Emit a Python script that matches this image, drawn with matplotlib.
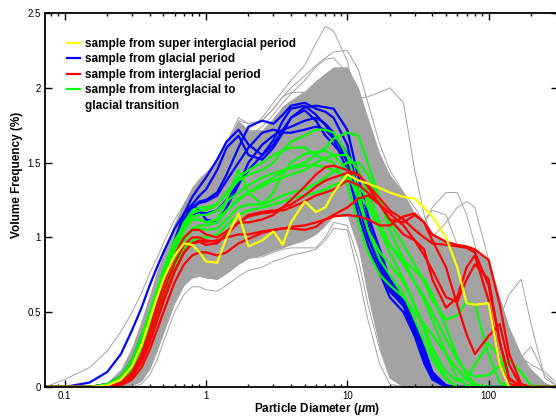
import matplotlib
matplotlib.use("Agg")
import matplotlib.pyplot as plt
from matplotlib.lines import Line2D
from matplotlib.ticker import FixedLocator, LogLocator, NullFormatter, NullLocator

plt.rcParams["font.family"] = ["Liberation Sans", "DejaVu Sans"]
plt.rcParams["mathtext.fontset"] = "custom"
plt.rcParams["mathtext.it"] = "Liberation Sans:italic:bold"
plt.rcParams["mathtext.rm"] = "Liberation Sans:bold"

# particle size classes (um)
DIAMETER = [0.0726, 0.1, 0.15, 0.2, 0.25, 0.3, 0.35, 0.4, 0.45, 0.5,
            0.6, 0.7, 0.8, 0.9, 1.0, 1.2, 1.4, 1.7, 2.0,
            2.5, 3, 3.5, 4, 5, 6, 7, 8, 10,
            12, 14, 17, 20, 25, 30, 35, 40, 50,
            60, 70, 80, 100, 120, 140, 170, 200, 250, 310]

# envelope of the dense cloud of all other samples
GRAY_UPPER = [0, 0, 0, 0.03, 0.12, 0.27, 0.45, 0.62, 0.78, 0.90,
              1.10, 1.24, 1.34, 1.40, 1.44, 1.52, 1.65, 1.78, 1.72,
              1.72, 1.80, 1.88, 1.92, 1.98, 2.05, 2.10, 2.14, 2.14,
              2.00, 1.80, 1.56, 1.42, 1.30, 1.16, 1.08, 1.03, 0.98,
              0.96, 0.94, 0.92, 0.86, 0.60, 0.40, 0.22, 0.12, 0.03, 0]
GRAY_LOWER = [0, 0, 0, 0, 0, 0.01, 0.04, 0.12, 0.24, 0.36,
              0.56, 0.68, 0.73, 0.74, 0.73, 0.72, 0.76, 0.82, 0.86,
              0.88, 0.91, 0.93, 0.95, 0.98, 1.02, 1.08, 1.14, 1.14,
              0.92, 0.60, 0.25, 0.06, 0, 0, 0, 0, 0,
              0, 0, 0, 0, 0, 0, 0, 0, 0, 0]

# individual gray samples at the edge of the cloud
GRAY_SAMPLES = [
    [0, 0.05, 0.13, 0.24, 0.37, 0.50, 0.63, 0.76, 0.86, 0.96,
     1.12, 1.22, 1.30, 1.35, 1.38, 1.42, 1.50, 1.62, 1.65,
     1.68, 1.74, 1.80, 1.85, 1.90, 1.92, 1.90, 1.85, 1.75,
     1.50, 1.25, 1.00, 0.85, 0.72, 0.60, 0.50, 0.40, 0.25,
     0.15, 0.08, 0.04, 0.01, 0, 0, 0, 0, 0, 0],
    [0, 0, 0, 0, 0, 0, 0.02, 0.08, 0.18, 0.30,
     0.50, 0.62, 0.67, 0.67, 0.65, 0.64, 0.68, 0.74, 0.78,
     0.80, 0.84, 0.86, 0.88, 0.90, 0.92, 0.98, 1.06, 1.05,
     0.75, 0.45, 0.15, 0.02, 0, 0, 0, 0, 0,
     0, 0, 0, 0, 0, 0, 0, 0, 0, 0],
    [0, 0, 0, 0, 0, 0.01, 0.04, 0.12, 0.24, 0.36,
     0.56, 0.68, 0.73, 0.74, 0.73, 0.72, 0.76, 0.82, 0.86,
     0.87, 0.90, 0.92, 0.93, 0.93, 0.93, 1.00, 1.10, 1.08,
     0.85, 0.55, 0.25, 0.06, 0, 0, 0, 0, 0,
     0, 0, 0, 0, 0, 0, 0, 0, 0, 0],
    [0, 0, 0, 0.02, 0.10, 0.24, 0.40, 0.56, 0.70, 0.82,
     1.00, 1.12, 1.20, 1.26, 1.30, 1.40, 1.55, 1.72, 1.72,
     1.80, 1.90, 1.98, 2.05, 2.15, 2.30, 2.41, 2.38, 2.18,
     1.85, 1.55, 1.20, 0.95, 0.75, 0.60, 0.48, 0.35, 0.15,
     0.04, 0, 0, 0, 0, 0, 0, 0, 0, 0],
    [0, 0, 0, 0.02, 0.08, 0.20, 0.36, 0.52, 0.66, 0.78,
     0.98, 1.12, 1.22, 1.30, 1.36, 1.46, 1.60, 1.78, 1.76,
     1.78, 1.86, 1.94, 1.97, 1.97, 1.96, 1.95, 1.94, 1.93,
     1.93, 1.94, 1.97, 2.00, 1.90, 1.45, 1.15, 1.00, 0.75,
     0.45, 0.28, 0.17, 0.06, 0.01, 0, 0, 0, 0, 0],
    [0, 0, 0, 0.02, 0.09, 0.22, 0.38, 0.55, 0.70, 0.82,
     1.02, 1.16, 1.26, 1.34, 1.40, 1.50, 1.63, 1.80, 1.76,
     1.78, 1.86, 1.94, 2.00, 2.08, 2.15, 2.20, 2.24, 2.25,
     2.12, 1.90, 1.62, 1.45, 1.30, 1.20, 1.10, 1.02, 0.90,
     0.80, 0.70, 0.60, 0.40, 0.20, 0.08, 0.02, 0, 0, 0],
    [0, 0, 0, 0.01, 0.06, 0.16, 0.30, 0.46, 0.60, 0.72,
     0.92, 1.06, 1.16, 1.22, 1.27, 1.36, 1.50, 1.66, 1.68,
     1.74, 1.82, 1.90, 1.96, 2.05, 2.14, 2.19, 2.20, 2.10,
     1.95, 1.75, 1.50, 1.30, 1.15, 1.05, 0.98, 0.92, 0.85,
     0.75, 0.62, 0.50, 0.30, 0.12, 0.03, 0, 0, 0, 0],
    [0, 0, 0, 0, 0.02, 0.08, 0.18, 0.32, 0.46, 0.58,
     0.78, 0.90, 0.96, 0.98, 0.98, 1.00, 1.06, 1.12, 1.15,
     1.18, 1.20, 1.22, 1.24, 1.28, 1.32, 1.36, 1.40, 1.42,
     1.40, 1.35, 1.28, 1.20, 1.10, 1.05, 1.10, 1.20, 1.30,
     1.30, 1.15, 0.95, 0.55, 0.25, 0.08, 0.01, 0, 0, 0],
    [0, 0, 0, 0, 0.01, 0.05, 0.13, 0.25, 0.38, 0.50,
     0.70, 0.82, 0.88, 0.90, 0.90, 0.92, 0.98, 1.04, 1.08,
     1.10, 1.12, 1.14, 1.16, 1.20, 1.24, 1.28, 1.30, 1.32,
     1.30, 1.26, 1.20, 1.12, 1.02, 0.96, 0.95, 1.00, 1.10,
     1.20, 1.24, 1.20, 0.85, 0.45, 0.18, 0.03, 0, 0, 0],
    [0, 0, 0, 0, 0.01, 0.04, 0.10, 0.20, 0.32, 0.44,
     0.64, 0.76, 0.82, 0.84, 0.84, 0.85, 0.90, 0.96, 1.00,
     1.02, 1.05, 1.08, 1.10, 1.14, 1.18, 1.22, 1.25, 1.28,
     1.27, 1.22, 1.15, 1.08, 1.00, 0.95, 0.92, 0.90, 0.88,
     0.85, 0.82, 0.78, 0.55, 0.46, 0.62, 0.72, 0.42, 0.06, 0],
    [0, 0, 0, 0, 0.01, 0.05, 0.12, 0.22, 0.34, 0.46,
     0.66, 0.78, 0.84, 0.86, 0.86, 0.87, 0.92, 0.98, 1.02,
     1.04, 1.07, 1.10, 1.12, 1.16, 1.20, 1.24, 1.27, 1.30,
     1.28, 1.22, 1.14, 1.06, 0.98, 0.92, 0.88, 0.85, 0.80,
     0.75, 0.70, 0.65, 0.55, 0.35, 0.20, 0.20, 0.27, 0.08, 0],
    [0, 0, 0, 0, 0.01, 0.04, 0.10, 0.20, 0.31, 0.42,
     0.62, 0.74, 0.80, 0.82, 0.82, 0.83, 0.88, 0.94, 0.98,
     1.00, 1.03, 1.06, 1.08, 1.12, 1.16, 1.20, 1.23, 1.25,
     1.22, 1.16, 1.08, 1.00, 0.92, 0.86, 0.82, 0.80, 0.76,
     0.72, 0.66, 0.60, 0.48, 0.38, 0.30, 0.20, 0.15, 0.10, 0.02],
    [0, 0, 0, 0, 0.01, 0.05, 0.12, 0.23, 0.35, 0.47,
     0.68, 0.80, 0.86, 0.88, 0.88, 0.90, 0.95, 1.02, 1.05,
     1.08, 1.10, 1.12, 1.15, 1.20, 1.25, 1.30, 1.34, 1.36,
     1.33, 1.26, 1.15, 1.05, 0.98, 1.00, 1.10, 1.18, 1.15,
     0.95, 0.70, 0.50, 0.30, 0.15, 0.05, 0.01, 0, 0, 0],
]

# glacial period samples
GLACIAL = [
    [0, 0, 0.03, 0.10, 0.22, 0.38, 0.53, 0.68, 0.80, 0.90,
     1.06, 1.16, 1.27, 1.34, 1.40, 1.52, 1.64, 1.72, 1.62,
     1.55, 1.62, 1.72, 1.80, 1.87, 1.88, 1.87, 1.86, 1.72,
     1.40, 1.15, 0.92, 0.72, 0.58, 0.42, 0.24, 0.09, 0.01,
     0, 0, 0, 0, 0, 0, 0, 0, 0, 0],
    [0, 0, 0, 0.02, 0.07, 0.18, 0.34, 0.47, 0.62, 0.75,
     0.95, 1.10, 1.20, 1.24, 1.25, 1.30, 1.42, 1.60, 1.74,
     1.78, 1.76, 1.82, 1.88, 1.90, 1.86, 1.84, 1.80, 1.62,
     1.30, 1.08, 0.86, 0.68, 0.56, 0.40, 0.22, 0.08, 0,
     0, 0, 0, 0, 0, 0, 0, 0, 0, 0],
    [0, 0, 0, 0.01, 0.05, 0.15, 0.30, 0.45, 0.60, 0.74,
     0.98, 1.16, 1.22, 1.18, 1.12, 1.10, 1.20, 1.35, 1.50,
     1.62, 1.68, 1.72, 1.74, 1.78, 1.80, 1.76, 1.70, 1.50,
     1.22, 1.00, 0.80, 0.64, 0.54, 0.36, 0.18, 0.06, 0,
     0, 0, 0, 0, 0, 0, 0, 0, 0, 0],
    [0, 0, 0, 0.01, 0.05, 0.14, 0.28, 0.43, 0.58, 0.72,
     0.95, 1.12, 1.22, 1.28, 1.32, 1.45, 1.60, 1.68, 1.55,
     1.52, 1.60, 1.70, 1.80, 1.85, 1.78, 1.68, 1.62, 1.52,
     1.25, 1.05, 0.84, 0.66, 0.55, 0.38, 0.20, 0.07, 0,
     0, 0, 0, 0, 0, 0, 0, 0, 0, 0],
    [0, 0, 0, 0.02, 0.06, 0.16, 0.32, 0.48, 0.63, 0.76,
     0.97, 1.12, 1.20, 1.23, 1.24, 1.28, 1.38, 1.50, 1.60,
     1.70, 1.72, 1.70, 1.70, 1.72, 1.74, 1.72, 1.66, 1.45,
     1.15, 0.95, 0.76, 0.60, 0.50, 0.34, 0.16, 0.05, 0,
     0, 0, 0, 0, 0, 0, 0, 0, 0, 0],
    [0, 0, 0, 0.01, 0.04, 0.12, 0.26, 0.41, 0.56, 0.70,
     0.92, 1.08, 1.15, 1.17, 1.16, 1.18, 1.25, 1.36, 1.45,
     1.55, 1.65, 1.78, 1.86, 1.88, 1.82, 1.75, 1.68, 1.56,
     1.30, 1.10, 0.88, 0.70, 0.57, 0.44, 0.26, 0.10, 0.01,
     0, 0, 0, 0, 0, 0, 0, 0, 0, 0],
]

# interglacial period samples
INTERGLACIAL = [
    [0, 0, 0, 0, 0.03, 0.10, 0.22, 0.38, 0.55, 0.68,
     0.88, 1.00, 1.05, 1.05, 1.02, 1.00, 1.04, 1.10, 1.10,
     1.12, 1.15, 1.20, 1.25, 1.34, 1.42, 1.47, 1.48, 1.45,
     1.42, 1.34, 1.22, 1.12, 1.02, 0.98, 0.92, 0.72, 0.53,
     0.60, 0.80, 0.88, 0.58, 0.15, 0.02, 0, 0, 0, 0],
    [0, 0, 0, 0, 0.02, 0.07, 0.17, 0.30, 0.45, 0.58,
     0.78, 0.90, 0.96, 0.97, 0.95, 0.96, 1.02, 1.10, 1.14,
     1.16, 1.17, 1.20, 1.22, 1.28, 1.34, 1.38, 1.40, 1.43,
     1.42, 1.35, 1.26, 1.18, 1.12, 1.05, 1.00, 0.96, 0.95,
     0.94, 0.93, 0.90, 0.68, 0.30, 0.06, 0, 0, 0, 0],
    [0, 0, 0, 0, 0.01, 0.05, 0.13, 0.25, 0.38, 0.50,
     0.70, 0.82, 0.88, 0.90, 0.90, 0.88, 0.90, 0.96, 0.99,
     1.03, 1.05, 1.06, 1.06, 1.05, 1.07, 1.12, 1.15, 1.20,
     1.26, 1.28, 1.22, 1.12, 1.10, 1.15, 1.10, 0.98, 0.80,
     0.55, 0.35, 0.22, 0.34, 0.42, 0.15, 0, 0, 0, 0],
    [0, 0, 0, 0, 0.02, 0.08, 0.20, 0.35, 0.50, 0.63,
     0.83, 0.95, 1.00, 1.00, 0.98, 0.97, 1.02, 1.10, 1.15,
     1.17, 1.18, 1.18, 1.20, 1.24, 1.28, 1.30, 1.32, 1.38,
     1.35, 1.30, 1.22, 1.16, 1.08, 0.98, 0.88, 0.78, 0.60,
     0.57, 0.72, 0.82, 0.72, 0.30, 0.05, 0, 0, 0, 0],
    [0, 0, 0, 0, 0.02, 0.07, 0.17, 0.30, 0.44, 0.57,
     0.77, 0.90, 0.96, 0.98, 0.97, 0.98, 1.00, 1.02, 1.02,
     1.04, 1.05, 1.06, 1.07, 1.08, 1.10, 1.12, 1.14, 1.15,
     1.14, 1.12, 1.08, 1.08, 1.14, 1.16, 1.10, 1.02, 0.97,
     0.95, 0.94, 0.92, 0.85, 0.55, 0.22, 0.02, 0, 0, 0],
]

# super interglacial period sample
SUPER_INTERGLACIAL = [0, 0, 0, 0.01, 0.05, 0.14, 0.28, 0.45, 0.60, 0.72,
                      0.88, 0.96, 0.95, 0.90, 0.84, 0.83, 1.00, 1.16, 0.94,
                      0.98, 1.04, 0.95, 1.10, 1.24, 1.17, 1.20, 1.30, 1.42,
                      1.38, 1.36, 1.33, 1.30, 1.27, 1.26, 1.20, 1.14, 1.00,
                      0.80, 0.56, 0.55, 0.56, 0.15, 0, 0, 0, 0, 0]

# interglacial to glacial transition samples
TRANSITION = [
    [0, 0, 0, 0.01, 0.05, 0.15, 0.30, 0.46, 0.62, 0.75,
     0.95, 1.10, 1.18, 1.20, 1.20, 1.22, 1.30, 1.38, 1.42,
     1.45, 1.50, 1.58, 1.64, 1.68, 1.72, 1.72, 1.70, 1.55,
     1.30, 1.05, 0.85, 0.75, 0.62, 0.45, 0.30, 0.18, 0.05,
     0, 0, 0, 0, 0, 0, 0, 0, 0, 0],
    [0, 0, 0, 0, 0.03, 0.10, 0.22, 0.38, 0.54, 0.68,
     0.90, 1.05, 1.12, 1.12, 1.10, 1.12, 1.18, 1.25, 1.30,
     1.36, 1.40, 1.44, 1.47, 1.50, 1.55, 1.60, 1.66, 1.70,
     1.68, 1.50, 1.25, 1.05, 0.85, 0.70, 0.58, 0.45, 0.22,
     0.06, 0.01, 0, 0, 0, 0, 0, 0, 0, 0],
    [0, 0, 0, 0.02, 0.07, 0.18, 0.34, 0.50, 0.65, 0.78,
     0.98, 1.08, 1.12, 1.12, 1.10, 1.12, 1.25, 1.45, 1.30,
     1.22, 1.30, 1.42, 1.50, 1.56, 1.57, 1.58, 1.55, 1.45,
     1.25, 1.05, 0.90, 0.82, 0.70, 0.55, 0.38, 0.22, 0.06,
     0, 0, 0, 0, 0, 0, 0, 0, 0, 0],
    [0, 0, 0, 0, 0.02, 0.08, 0.18, 0.33, 0.48, 0.62,
     0.84, 0.98, 1.05, 1.06, 1.05, 1.06, 1.12, 1.20, 1.22,
     1.22, 1.25, 1.28, 1.30, 1.32, 1.36, 1.40, 1.44, 1.50,
     1.50, 1.42, 1.25, 1.10, 0.95, 0.82, 0.70, 0.58, 0.45,
     0.48, 0.57, 0.55, 0.22, 0.03, 0, 0, 0, 0, 0],
    [0, 0, 0, 0, 0.02, 0.08, 0.18, 0.32, 0.46, 0.60,
     0.80, 0.92, 0.98, 1.00, 1.00, 1.02, 1.08, 1.15, 1.18,
     1.20, 1.22, 1.24, 1.26, 1.28, 1.30, 1.32, 1.35, 1.38,
     1.35, 1.25, 1.05, 0.90, 0.72, 0.55, 0.40, 0.26, 0.10,
     0.04, 0.06, 0.15, 0.29, 0.20, 0.05, 0, 0, 0, 0],
    [0, 0, 0, 0, 0.02, 0.09, 0.20, 0.35, 0.50, 0.64,
     0.86, 1.00, 1.06, 1.08, 1.08, 1.10, 1.18, 1.26, 1.30,
     1.34, 1.38, 1.40, 1.42, 1.45, 1.50, 1.53, 1.55, 1.55,
     1.45, 1.30, 1.10, 0.95, 0.82, 0.70, 0.60, 0.50, 0.32,
     0.18, 0.10, 0.07, 0.08, 0.14, 0.18, 0.10, 0.01, 0, 0],
    [0, 0, 0, 0.01, 0.04, 0.12, 0.26, 0.42, 0.58, 0.72,
     0.94, 1.08, 1.14, 1.15, 1.15, 1.18, 1.24, 1.30, 1.35,
     1.40, 1.43, 1.45, 1.46, 1.48, 1.48, 1.47, 1.45, 1.40,
     1.30, 1.20, 1.05, 0.95, 0.85, 0.78, 0.72, 0.62, 0.40,
     0.20, 0.08, 0.02, 0, 0, 0, 0, 0, 0, 0],
    [0, 0, 0, 0.01, 0.05, 0.14, 0.28, 0.44, 0.60, 0.73,
     0.95, 1.10, 1.16, 1.18, 1.18, 1.22, 1.30, 1.40, 1.45,
     1.50, 1.55, 1.58, 1.60, 1.60, 1.55, 1.52, 1.50, 1.35,
     1.10, 0.90, 0.75, 0.68, 0.60, 0.50, 0.42, 0.35, 0.22,
     0.12, 0.05, 0.01, 0, 0, 0, 0, 0, 0, 0],
]

LEGEND_LABELS = ["sample from super interglacial period",
                 "sample from glacial period",
                 "sample from interglacial period",
                 "sample from interglacial to",
                 "glacial transition"]
YELLOW, BLUE, RED, GREEN, GRAY = "#ffff00", "#0000ff", "#ff0000", "#00ff00", "#a3a3a3"

fig = plt.figure(figsize=(5.56, 4.17), dpi=100)
ax = fig.add_axes([45 / 556, 30 / 417, 513 / 556, 374 / 417])

ax.fill_between(DIAMETER, GRAY_LOWER, GRAY_UPPER, color=GRAY, lw=0)
for s in GRAY_SAMPLES:
    ax.plot(DIAMETER, s, color=GRAY, lw=0.7)

for s in GLACIAL:
    ax.plot(DIAMETER, s, color=BLUE, lw=1.6)
for s in TRANSITION:
    ax.plot(DIAMETER, s, color=GREEN, lw=1.6)
for s in INTERGLACIAL:
    ax.plot(DIAMETER, s, color=RED, lw=1.6)
ax.plot(DIAMETER, SUPER_INTERGLACIAL, color=YELLOW, lw=1.6)

ax.set_xscale("log")
ax.set_xlim(0.0726, 310)
ax.set_ylim(0, 2.5)
ax.set_yticks([0, 0.5, 1, 1.5, 2, 2.5])
ax.set_yticklabels(["0", "0.5", "1", "1.5", "2", "2.5"])
ax.xaxis.set_major_locator(FixedLocator([0.1, 1, 10, 100]))
ax.set_xticklabels(["0.1", "1", "10", "100"])
ax.xaxis.set_minor_locator(LogLocator(base=10, subs=range(2, 10)))
ax.xaxis.set_minor_formatter(NullFormatter())
ax.yaxis.set_minor_locator(NullLocator())
ax.tick_params(which="both", direction="in", top=True, right=True, labelsize=7, width=1)
ax.tick_params(which="major", length=5, pad=3)
ax.tick_params(which="minor", length=2.5)
for sp in ax.spines.values():
    sp.set_linewidth(1.3)

ax.set_xlabel(r"Particle Diameter ($\mu$m)", fontsize=8.5, fontweight="bold")
ax.xaxis.set_label_coords((317 - 45) / 513, -(401 - 387) / 374)
ax.set_ylabel("Volume Frequency (%)", fontsize=8.5, fontweight="bold")
ax.yaxis.set_label_coords(-(45 - 23) / 513, (387 - 175) / 374)

handles = [Line2D([], [], color=c, lw=1.6) for c in (YELLOW, BLUE, RED, GREEN, "none")]
ax.legend(handles, LEGEND_LABELS, loc="upper left", bbox_to_anchor=(0.043, 0.934),
          frameon=False, borderpad=0, borderaxespad=0, handlelength=1.1,
          handletextpad=0.4, labelspacing=0.3,
          prop={"weight": "bold", "size": 8.5})

fig.savefig("out.png", dpi=100)
